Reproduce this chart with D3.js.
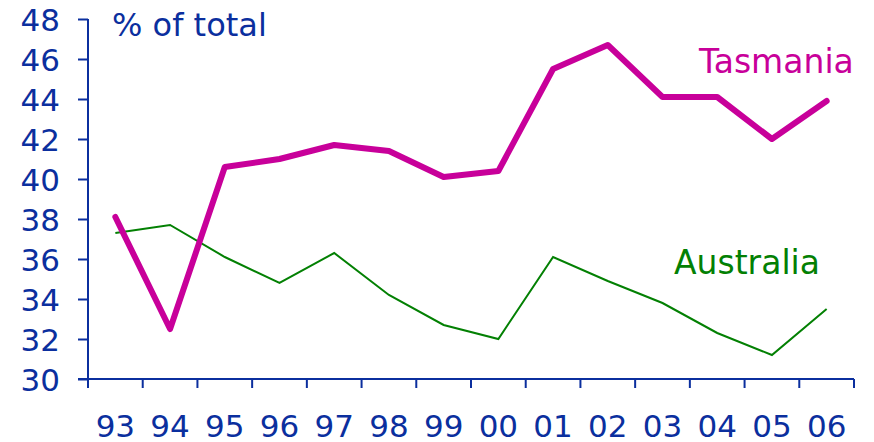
<!DOCTYPE html>
<html>
<head>
<meta charset="utf-8">
<script src="https://cdn.jsdelivr.net/npm/d3@7/dist/d3.min.js"></script>
<style>
  html, body { margin: 0; padding: 0; background: #fff; }
  svg { display: block; }
  text { font-family: Verdana, "DejaVu Sans", sans-serif; }
</style>
</head>
<body>
<svg id="chart" width="874" height="442"></svg>
<script>
// Share of total, by financial year
const years = ["93", "94", "95", "96", "97", "98", "99", "00", "01", "02", "03", "04", "05", "06"];
const tasmania = [38.1, 32.5, 40.6, 41.0, 41.7, 41.4, 40.1, 40.4, 45.5, 46.7, 44.1, 44.1, 42.0, 43.9];
const australia = [37.3, 37.7, 36.1, 34.8, 36.3, 34.2, 32.7, 32.0, 36.1, 34.9, 33.8, 32.3, 31.2, 33.5];
const yTicks = [30, 32, 34, 36, 38, 40, 42, 44, 46, 48];

const axisBlue = "#0b2f9e";
const magenta = "#c8009a";
const green = "#038003";

const svg = d3.select("#chart");
const left = 88, right = 854;

const x = d3.scaleBand().domain(years).range([left, right]).paddingInner(0).paddingOuter(0);
const y = d3.scaleLinear().domain([30, 48]).range([379, 19]);

// y axis
const yAxis = d3.axisLeft(y).tickValues(yTicks).tickSize(10).tickPadding(18).tickFormat(d3.format("d"));
const gy = svg.append("g").attr("transform", `translate(${left},0)`).call(yAxis);
gy.select(".domain").remove();
gy.selectAll(".tick line").attr("stroke", axisBlue).attr("stroke-width", 2);
gy.selectAll(".tick text").attr("fill", axisBlue).style("font-size", "31px").attr("dy", "0.36em");
svg.append("line")
  .attr("x1", left).attr("x2", left)
  .attr("y1", y(48)).attr("y2", 388)
  .attr("stroke", axisBlue).attr("stroke-width", 2);

// x axis: ticks sit on band boundaries, labels centred in each band
const gx = svg.append("g").attr("transform", `translate(0,${y(30)})`);
gx.append("line")
  .attr("x1", 78).attr("x2", right)
  .attr("stroke", axisBlue).attr("stroke-width", 2);
const bounds = years.map(d => x(d)).concat([right]);
gx.selectAll("line.tk").data(bounds).join("line").attr("class", "tk")
  .attr("x1", d => d).attr("x2", d => d)
  .attr("y1", 0).attr("y2", 9)
  .attr("stroke", axisBlue).attr("stroke-width", 2);
gx.selectAll("text.yr").data(years).join("text").attr("class", "yr")
  .attr("x", d => x(d) + x.bandwidth() / 2)
  .attr("y", 58)
  .attr("text-anchor", "middle")
  .attr("fill", axisBlue)
  .style("font-size", "31px")
  .text(d => d);

// unit label
svg.append("text")
  .attr("x", 112).attr("y", 36)
  .attr("fill", axisBlue)
  .style("font-size", "32px")
  .text("% of total");

const line = d3.line()
  .x((d, i) => x(years[i]) + x.bandwidth() / 2)
  .y(d => y(d));

svg.append("path")
  .datum(australia)
  .attr("fill", "none")
  .attr("stroke", green)
  .attr("stroke-width", 2)
  .attr("d", line);

svg.append("path")
  .datum(tasmania)
  .attr("fill", "none")
  .attr("stroke", magenta)
  .attr("stroke-width", 6)
  .attr("stroke-linejoin", "round")
  .attr("stroke-linecap", "round")
  .attr("d", line);

svg.append("text")
  .attr("x", 699).attr("y", 73)
  .attr("fill", magenta)
  .style("font-size", "33px")
  .text("Tasmania");

svg.append("text")
  .attr("x", 674).attr("y", 274)
  .attr("fill", green)
  .style("font-size", "33px")
  .text("Australia");
</script>
</body>
</html>
